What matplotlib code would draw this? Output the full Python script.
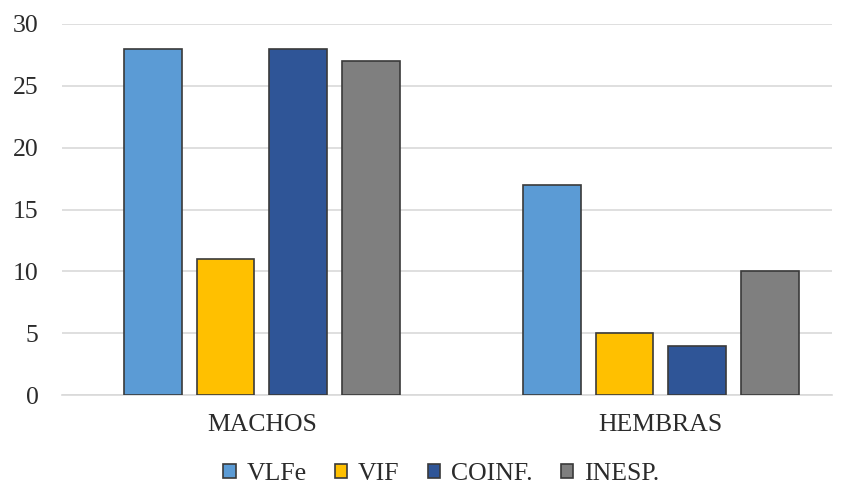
import numpy as np
import matplotlib.pyplot as plt

categories = ['MACHOS', 'HEMBRAS']
series = ['VLFe', 'VIF', 'COINF.', 'INESP.']
values = {
    'VLFe': [28, 17],
    'VIF': [11, 5],
    'COINF.': [28, 4],
    'INESP.': [27, 10],
}
colors = ['#5B9BD5', '#FFC000', '#2F5597', '#7F7F7F']

plt.rcParams['font.family'] = ['Liberation Serif', 'DejaVu Serif']

fig = plt.figure(figsize=(8.48, 4.88), dpi=100)
ax = fig.add_axes([62 / 848, 93 / 488, 770 / 848, 371 / 488])

x = np.arange(len(categories))
width = 0.145
step = 0.182
for i, name in enumerate(series):
    offset = (i - 1.5) * step
    ax.bar(x + offset, values[name], width, color=colors[i],
           edgecolor='#3a3a3a', linewidth=1.2, label=name, zorder=3)

ax.set_xlim(-0.501, 1.429)
ax.set_ylim(0, 30)
ax.set_yticks(np.arange(0, 31, 5))
ax.set_xticks(x)
ax.set_xticklabels(categories)
ax.tick_params(axis='both', length=0, labelsize=18.5, colors='#2b2b2b')
ax.tick_params(axis='x', pad=14)
ax.tick_params(axis='y', pad=17)
ax.grid(axis='y', color='#d9d9d9', linewidth=1.2, zorder=0)
for side in ['top', 'right', 'left']:
    ax.spines[side].set_visible(False)
ax.spines['bottom'].set_color('#d9d9d9')
ax.spines['bottom'].set_linewidth(1.2)

leg = fig.legend(loc='center', bbox_to_anchor=(441 / 848, 1 - 474 / 488), ncol=4,
                 frameon=False, fontsize=18.5, handlelength=0.5, handleheight=0.5,
                 handletextpad=0.4, columnspacing=1.1, borderpad=0)
for t in leg.get_texts():
    t.set_color('#2b2b2b')

fig.savefig('out.png', dpi=100)
plt.close(fig)
